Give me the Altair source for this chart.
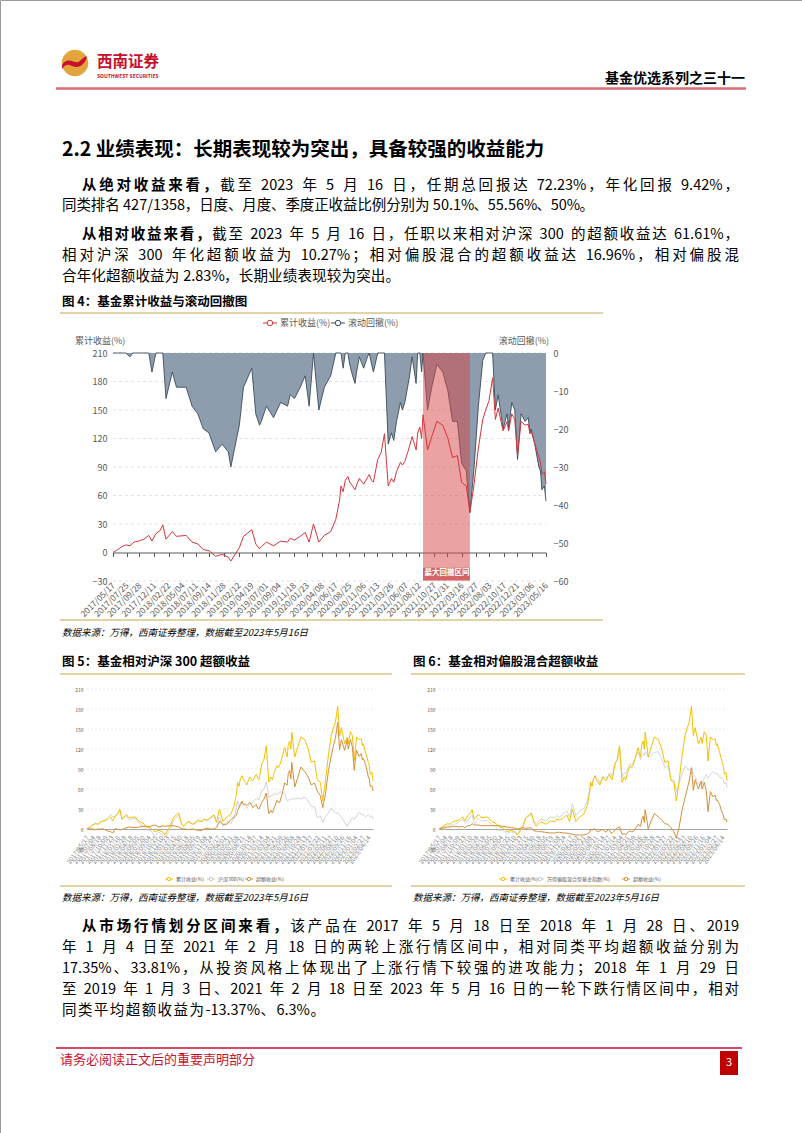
import altair as alt
import pandas as pd

FONT = "Noto Sans CJK SC"
W, H = 802, 1133

# ---------------- data ----------------
DATES = [
    "2017/05/17", "2017/06/09", "2017/06/30", "2017/07/21", "2017/08/11", "2017/08/25", "2017/09/01",
    "2017/09/22", "2017/10/20", "2017/11/14", "2017/11/30", "2017/12/20",
    "2018/01/10", "2018/01/24", "2018/02/09", "2018/03/13", "2018/04/03", "2018/05/22", "2018/06/21",
    "2018/07/20", "2018/08/17", "2018/09/14", "2018/10/18", "2018/11/20", "2018/12/21",
    "2019/01/03", "2019/02/15", "2019/03/08", "2019/04/19", "2019/05/09", "2019/05/28", "2019/06/06",
    "2019/07/02", "2019/08/07", "2019/09/12", "2019/10/17", "2019/10/30", "2019/11/21", "2019/12/20",
    "2020/01/14", "2020/02/03", "2020/02/25", "2020/03/23", "2020/04/20", "2020/05/22", "2020/06/17",
    "2020/07/06", "2020/07/13", "2020/07/24", "2020/08/04", "2020/08/17", "2020/08/26", "2020/09/10",
    "2020/09/22", "2020/09/30", "2020/10/14", "2020/10/28", "2020/11/05", "2020/11/24", "2020/12/03",
    "2020/12/15", "2020/12/24",
    "2021/01/15", "2021/02/01", "2021/02/18", "2021/03/09", "2021/03/25", "2021/04/06", "2021/04/20",
    "2021/05/10", "2021/05/20", "2021/06/01", "2021/06/15", "2021/06/25", "2021/07/08", "2021/07/28",
    "2021/08/05", "2021/08/16", "2021/08/25", "2021/09/01", "2021/09/24", "2021/10/15", "2021/11/10",
    "2021/12/10",
    "2022/01/05", "2022/01/28", "2022/02/22", "2022/03/15", "2022/04/08", "2022/04/26", "2022/05/16",
    "2022/06/08", "2022/06/30", "2022/07/15", "2022/08/01", "2022/08/19", "2022/09/02", "2022/09/16",
    "2022/10/11", "2022/10/31", "2022/11/08", "2022/11/24", "2022/12/09", "2022/12/23",
    "2023/01/10", "2023/01/30", "2023/02/15", "2023/02/24", "2023/03/02", "2023/03/20", "2023/04/10",
    "2023/04/18", "2023/04/25", "2023/05/08", "2023/05/16",
]
FUND = [
    0, 3, 6, 8, 7, 10, 11, 12, 14, 18, 12, 20,
    23, 29, 14, 22, 17, 18, 11, 9, 3, 2, -4, -2, -5,
    -9, 5, 17, 24, 9, 4, 6, 11, 7, 12, 11, 15, 13, 17,
    21, 11, 30, 11, 18, 22, 35, 55, 70, 64, 76, 80, 74, 70, 66, 71, 78, 74, 72, 79, 82, 76, 74,
    98, 105, 125, 70, 78, 74, 85, 95, 92, 96, 105, 112, 122, 108, 126, 132, 120, 145, 108, 122, 138, 134,
    120, 100, 102, 74, 70, 42, 70, 110, 140, 150, 160, 184, 140, 152, 128, 138, 128, 146, 140, 102,
    138, 134, 135, 125, 128, 115, 100, 95, 82, 85, 72.23,
]
DRAWDOWN = [
    0, 0, 0, 0, -1, 0, 0, 0, 0, 0, -5, 0,
    0, 0, -12, -5, -9, -9, -14, -16, -20, -21, -26, -24, -26,
    -30, -19, -9, -4, -16, -19, -18, -14, -17, -13, -14, -11, -12, -9,
    -6, -14, 0, -15, -9, -6, 0, 0, 0, -4, 0, 0, -3, -6, -8, -5, -1, -3, -4, -1, 0, -3, -5,
    0, 0, 0, -24, -21, -23, -18, -13, -15, -13, -9, -6, -1, -8, 0, 0, -5, 0, -15, -9, -3, -5,
    -10, -18, -18, -29, -31, -42, -31, -14, -2, 0, 0, 0, -15, -11, -20, -16, -20, -13, -15, -28,
    -16, -18, -17, -21, -20, -24, -30, -31, -36, -35, -39,
]
HS300 = [
    0, 3, 6, 9, 7, 10, 11, 12, 17, 22, 18, 19,
    24, 30, 15, 20, 14, 16, 8, 5, -1, -2, -10, -5, -10,
    -13, 0, 12, 21, 8, 4, 6, 12, 7, 14, 13, 15, 12, 17,
    21, 9, 18, 4, 11, 8, 17, 34, 42, 32, 40, 38, 37, 33, 31, 34, 38, 38, 40, 44, 45, 45, 44,
    58, 60, 71, 47, 50, 50, 53, 52, 52, 56, 55, 55, 53, 42, 43, 44, 45, 45, 45, 46, 45, 48,
    42, 34, 33, 17, 20, 10, 18, 24, 31, 27, 24, 24, 21, 18, 10, 4, 8, 12, 17, 14,
    20, 25, 22, 21, 22, 18, 22, 20, 18, 20, 15,
]
EXCESS_HS300 = [
    0, 0, 0, -1, 0, 0, 0, 0, -3, -4, -6, 1,
    -1, -1, -1, 2, 3, 2, 3, 4, 4, 4, 6, 3, 5,
    4, 5, 5, 3, 1, 0, 0, -1, 0, -2, -2, 0, 1, 0,
    0, 2, 12, 7, 7, 14, 18, 21, 28, 32, 36, 42, 37, 37, 35, 37, 40, 36, 32, 35, 37, 31, 30,
    40, 45, 54, 23, 28, 24, 32, 43, 40, 40, 50, 57, 69, 66, 83, 88, 75, 100, 63, 76, 93, 86,
    78, 66, 69, 57, 50, 32, 52, 86, 109, 123, 136, 160, 119, 134, 118, 134, 120, 134, 123, 88,
    118, 109, 113, 104, 106, 97, 78, 75, 64, 65, 57,
]
MIX_INDEX = [
    0, 2, 4, 5, 4, 6, 7, 8, 11, 14, 10, 12,
    18, 21, 8, 16, 12, 13, 6, 4, -2, -2, -7, -4, -6,
    -9, 3, 16, 22, 12, 7, 10, 15, 12, 18, 17, 20, 18, 23,
    27, 18, 38, 20, 27, 31, 42, 60, 70, 66, 76, 80, 77, 74, 69, 72, 79, 77, 77, 80, 84, 82, 80,
    100, 103, 122, 78, 85, 83, 90, 98, 96, 100, 105, 110, 115, 104, 112, 113, 110, 116, 108, 110, 115, 116,
    106, 92, 95, 72, 74, 56, 68, 82, 94, 92, 88, 92, 82, 78, 68, 66, 68, 76, 82, 76,
    82, 86, 84, 82, 84, 78, 76, 74, 68, 70, 62,
]
EXCESS_MIX = [
    0, 1, 2, 3, 3, 4, 4, 4, 3, 4, 2, 5,
    5, 8, 6, 6, 5, 5, 5, 5, 5, 4, 3, 2, 1,
    0, 2, 1, 2, -3, -3, -4, -4, -5, -6, -6, -5, -5, -6,
    -6, -7, -8, -9, -9, -9, -7, -5, 0, -2, 0, 0, -3, -4, -3, -1, -1, -3, -5, -1, -2, -6, -6,
    -2, 2, 3, -8, -7, -9, -5, -3, -4, -4, 0, 2, 7, 4, 14, 19, 10, 29, 0, 12, 23, 18,
    14, 8, 7, 2, -4, -14, 2, 28, 46, 58, 72, 92, 58, 74, 60, 72, 60, 70, 58, 26,
    56, 48, 51, 43, 44, 37, 24, 21, 14, 15, 10,
]

C4_XTICKS = [
    "2017/05/17", "2017/07/25", "2017/09/28", "2017/12/11", "2018/02/22", "2018/05/04", "2018/07/11",
    "2018/09/14", "2018/11/28", "2019/02/12", "2019/04/19", "2019/07/01", "2019/09/04", "2019/11/18",
    "2020/01/23", "2020/04/08", "2020/06/17", "2020/08/25", "2020/11/06", "2021/01/13", "2021/03/26",
    "2021/06/07", "2021/08/12", "2021/10/27", "2021/12/31", "2022/03/16", "2022/05/27", "2022/08/03",
    "2022/10/17", "2022/12/21", "2023/03/06", "2023/05/16",
]
C56_XTICKS = [
    "2017/05/17", "2017/07/04", "2017/08/18", "2017/10/09", "2017/11/23", "2018/01/10", "2018/02/28",
    "2018/04/18", "2018/06/05", "2018/07/20", "2018/09/04", "2018/10/25", "2018/12/10", "2019/01/23",
    "2019/03/15", "2019/04/30", "2019/06/18", "2019/08/05", "2019/09/19", "2019/11/08", "2019/12/24",
    "2020/02/17", "2020/04/02", "2020/05/21", "2020/07/08", "2020/08/21", "2020/10/14", "2020/11/27",
    "2021/01/14", "2021/03/04", "2021/04/21", "2021/06/09", "2021/07/26", "2021/09/08", "2021/10/28",
    "2021/12/13", "2022/01/27", "2022/03/22", "2022/05/11", "2022/06/27", "2022/08/10", "2022/09/26",
    "2022/11/16", "2023/01/04", "2023/02/27", "2023/04/14",
]
C4_LEFT_TICKS = [210, 180, 150, 120, 90, 60, 30, 0, -30]
C4_RIGHT_TICKS = [0, -10, -20, -30, -40, -50, -60]
C56_Y_TICKS = [210, 180, 150, 120, 90, 60, 30, 0, -30]
MDD_RANGE = ["2021/09/01", "2022/04/26"]
MDD_LABEL = "最大回撤区间"

C4_SERIES = ["累计收益(%)", "滚动回撤(%)"]
C5_SERIES = ["累计收益(%)", "沪深300(%)", "超额收益(%)"]
C6_SERIES = ["累计收益(%)", "万得偏股混合型基金指数(%)", "超额收益(%)"]

# ---------------- styles ----------------
RED = "#d3353b"
SLATE_FILL = "#8a9aaa"
SLATE_LINE = "#3a4b5a"
GOLD = "#c9a54e"
YELLOW = "#f5c100"
ORANGE = "#d38f3a"
GRAY5 = "#c8c8c8"
GRAY6 = "#c3cedb"
AXT = "#595959"
GRID = "#d9d9d9"
BODY_FS = 14.5

ONE = pd.DataFrame({"k": [0]})


def dt(s):
    y, m, d = (int(v) for v in s.split("/"))
    return alt.DateTime(year=y, month=m, date=d)


def txt(s, x, y, size, color="#000000", weight="normal", style="normal", align="left"):
    return alt.Chart(ONE).mark_text(
        text=s, font=FONT, fontSize=size, color=color, fontWeight=weight,
        fontStyle=style, align=align, baseline="middle"
    ).encode(x=alt.value(x), y=alt.value(y))


def hline(x1, x2, y, color, width=1.0):
    return alt.Chart(ONE).mark_rule(color=color, strokeWidth=width).encode(
        x=alt.value(x1), x2=alt.value(x2), y=alt.value(y))


def legend_item(cx, cy, color, label, fs, half=7, size=30):
    return [
        hline(cx - half, cx + half, cy, color, 1),
        alt.Chart(ONE).mark_point(shape="circle", size=size, filled=True, fill="white",
                                  stroke=color, strokeWidth=1, opacity=1)
        .encode(x=alt.value(cx), y=alt.value(cy)),
        txt(label, cx + half + 3, cy, fs, AXT),
    ]


# ------------- justified body text (CJK justification) -------------
def tok_width(tok, fs):
    if len(tok) == 1 and ord(tok) > 0x2000:
        return fs
    w = 0.0
    for c in tok:
        if c.isdigit():
            w += 0.555
        elif c == ".":
            w += 0.26
        elif c == "%":
            w += 0.88
        elif c == "/":
            w += 0.38
        elif c == "-":
            w += 0.34
        elif c == " ":
            w += 0.25
        else:
            w += 0.55
    return w * fs


def layout_line(segments, x0, x1, y, fs):
    toks = []
    for text, wt in segments:
        i = 0
        while i < len(text):
            c = text[i]
            if ord(c) < 128 and c != " ":
                j = i
                while j < len(text) and ord(text[j]) < 128 and text[j] != " ":
                    j += 1
                toks.append((text[i:j], wt))
                i = j
            else:
                toks.append((c, wt))
                i += 1
    widths = [tok_width(t, fs) for t, _ in toks]
    extra = (x1 - x0 - sum(widths)) / (len(toks) - 1)
    rows, x = [], x0
    for (t, wt), w in zip(toks, widths):
        if t != " ":
            rows.append({"x": x, "y": y, "t": t, "w": wt})
        x += w + extra
    return rows


B, N = "bold", "normal"
LX, IX, RX = 62, 82, 739
rows = []
rows += layout_line([("从绝对收益来看，", B), ("截至 2023 年 5 月 16 日，任期总回报达 72.23%，年化回报 9.42%，", N)], IX, RX, 186, BODY_FS)
rows += layout_line([("同类排名 427/1358，日度、月度、季度正收益比例分别为 50.1%、55.56%、50%。", N)], LX, 594, 206, BODY_FS)
rows += layout_line([("从相对收益来看，", B), ("截至 2023 年 5 月 16 日，任职以来相对沪深 300 的超额收益达 61.61%，", N)], IX, RX, 235, BODY_FS)
rows += layout_line([("相对沪深 300 年化超额收益为 10.27%；相对偏股混合的超额收益达 16.96%，相对偏股混", N)], LX, RX, 256, BODY_FS)
rows += layout_line([("合年化超额收益为 2.83%，长期业绩表现较为突出。", N)], LX, 400, 277, BODY_FS)
rows += layout_line([("从市场行情划分区间来看，", B), ("该产品在 2017 年 5 月 18 日至 2018 年 1 月 28 日、2019", N)], IX, RX, 927, BODY_FS)
rows += layout_line([("年 1 月 4 日至 2021 年 2 月 18 日的两轮上涨行情区间中，相对同类平均超额收益分别为", N)], LX, RX, 948, BODY_FS)
rows += layout_line([("17.35%、33.81%，从投资风格上体现出了上涨行情下较强的进攻能力；2018 年 1 月 29 日", N)], LX, RX, 969, BODY_FS)
rows += layout_line([("至 2019 年 1 月 3 日、2021 年 2 月 18 日至 2023 年 5 月 16 日的一轮下跌行情区间中，相对", N)], LX, RX, 990, BODY_FS)
rows += layout_line([("同类平均超额收益为-13.37%、6.3%。", N)], LX, 325, 1011, BODY_FS)
body = pd.DataFrame(rows)


def body_layer(weight):
    return alt.Chart(body[body["w"] == weight]).mark_text(
        font=FONT, fontSize=BODY_FS, fontWeight=weight, align="left", baseline="middle", color="#000000"
    ).encode(x=alt.X("x:Q", scale=None, axis=None), y=alt.Y("y:Q", scale=None, axis=None), text="t:N")


# ---------------- scales ----------------
XDOM = [dt(DATES[0]), dt(DATES[-1])]
X4 = alt.Scale(domain=XDOM, range=[113, 546], nice=False)
Y4L = alt.Scale(domain=[-30, 210], range=[581, 353], nice=False, zero=False)
Y4R = alt.Scale(domain=[-60, 0], range=[581, 353], nice=False, zero=False)
X5 = alt.Scale(domain=XDOM, range=[87, 373], nice=False)
X6 = alt.Scale(domain=XDOM, range=[439, 727], nice=False)
Y56 = alt.Scale(domain=[-30, 210], range=[849, 689], nice=False, zero=False)

df = pd.DataFrame({
    "date": DATES, "fund": FUND, "dd": DRAWDOWN, "hs": HS300,
    "ex5": EXCESS_HS300, "idx": MIX_INDEX, "ex6": EXCESS_MIX,
})

common_lbl = dict(labelFont=FONT, labelColor=AXT, grid=False, title=None, labelOverlap=False,
                  labelFlush=False, labelBound=False)

x4_axis = alt.Axis(orient="bottom", offset=552.5 - H, values=[dt(s) for s in C4_XTICKS], format="%Y/%m/%d",
                   labelAngle=315, labelAlign="right", labelBaseline="middle", labelFontSize=8.5,
                   tickSize=4, tickColor=AXT, domainColor=AXT, labelPadding=27, **common_lbl)
y4l_axis = alt.Axis(orient="left", offset=-113, values=C4_LEFT_TICKS, labelFontSize=9, domain=False,
                    ticks=False, labelPadding=6, **common_lbl)
y4r_axis = alt.Axis(orient="right", offset=546 - W, values=C4_RIGHT_TICKS, labelFontSize=9, domain=False,
                    ticks=False, labelPadding=7, **common_lbl)


def x56_axis():
    return alt.Axis(orient="bottom", offset=829 - H, values=[dt(s) for s in C56_XTICKS], format="%Y/%m/%d",
                    labelAngle=305, labelAlign="right", labelBaseline="middle", labelFontSize=6.3,
                    labelColor="#7f7f7f", ticks=False, domainColor="#a6a6a6", labelPadding=7,
                    labelFont=FONT, grid=False, title=None, labelOverlap=False, labelFlush=False,
                    labelBound=False)


def y56_axis(off):
    return alt.Axis(orient="left", offset=-off, values=C56_Y_TICKS, labelFontSize=5, domain=False,
                    ticks=False, labelPadding=4, **common_lbl)


L = []

# ---------------- page header ----------------
L.append(alt.Chart(ONE).mark_point(shape="circle", size=700, filled=True, color="#e2a53c", opacity=1)
         .encode(x=alt.value(75), y=alt.value(63)))
L.append(alt.Chart(ONE).mark_point(
    shape="M -0.98 0.15 C -0.55 -0.55 -0.05 0.1 0.3 -0.1 C 0.55 -0.25 0.75 -0.6 0.9 -0.45 "
          "C 0.75 0.05 0.4 0.35 0.05 0.3 C -0.35 0.25 -0.6 -0.15 -0.98 0.45 Z",
    size=700, filled=True, color="#c8102e", opacity=1).encode(x=alt.value(75), y=alt.value(63)))
L.append(txt("西南证券", 97, 62, 15.5, "#c8102e", "bold"))
L.append(txt("SOUTHWEST SECURITIES", 97, 76, 5, "#c8102e", "bold"))
L.append(txt("基金优选系列之三十一", 745, 79, 14, "#000000", "bold", align="right"))
L.append(hline(56, 746, 88.5, "#d96c74", 2.5))

# section heading
L.append(txt("2.2 业绩表现：长期表现较为突出，具备较强的收益能力", 62, 150, 19.5, "#000000", "bold"))
L.append(body_layer("normal"))
L.append(body_layer("bold"))

# ---------------- figure 4 ----------------
L.append(txt("图 4：基金累计收益与滚动回撤图", 62, 302, 12.5, "#000000", "bold"))
L.append(hline(60, 603, 313, GOLD, 1.2))
L += legend_item(270, 323, RED, C4_SERIES[0], 9)
L += legend_item(338, 323, SLATE_LINE, C4_SERIES[1], 9)
L.append(txt("累计收益(%)", 75, 341, 9, AXT))
L.append(txt("滚动回撤(%)", 549, 341, 9, AXT, align="right"))

grid4 = pd.DataFrame({"v": [v for v in C4_LEFT_TICKS if v != 0]})
L.append(alt.Chart(grid4).mark_rule(color=GRID, strokeDash=[3, 3], strokeWidth=0.8).encode(
    y=alt.Y("v:Q", scale=Y4L, axis=None), x=alt.value(113), x2=alt.value(546)))
L.append(alt.Chart(df).mark_area(color=SLATE_FILL, opacity=0.97).encode(
    x=alt.X("date:T", scale=X4, axis=None),
    y=alt.Y("dd:Q", scale=Y4R, axis=y4r_axis, stack=None), y2=alt.datum(0)))
L.append(alt.Chart(df).mark_line(color=SLATE_LINE, strokeWidth=0.9).encode(
    x=alt.X("date:T", scale=X4, axis=None), y=alt.Y("dd:Q", scale=Y4R, axis=None)))
mdd = pd.DataFrame({"s": [MDD_RANGE[0]], "e": [MDD_RANGE[1]], "top": [210], "bot": [-30],
                    "lt": [-16], "lb": [-29]})
L.append(alt.Chart(mdd).mark_rect(color="#d64545", opacity=0.5).encode(
    x=alt.X("s:T", scale=X4, axis=None), x2="e:T",
    y=alt.Y("top:Q", scale=Y4L, axis=None), y2="bot:Q"))
L.append(alt.Chart(df).mark_line(color=RED, strokeWidth=1).encode(
    x=alt.X("date:T", scale=X4, axis=x4_axis), y=alt.Y("fund:Q", scale=Y4L, axis=y4l_axis)))
L.append(alt.Chart(mdd).mark_rect(color="#cf5a5e", opacity=0.85).encode(
    x=alt.X("s:T", scale=X4, axis=None), x2="e:T",
    y=alt.Y("lt:Q", scale=Y4L, axis=None), y2="lb:Q"))
L.append(txt(MDD_LABEL, 447, 573, 7.5, "#ffffff", "bold", align="center"))

L.append(hline(60, 603, 620, GOLD, 1.2))
L.append(txt("数据来源：万得，西南证券整理，数据截至2023年5月16日", 62, 633, 9.5, "#000000", style="italic"))

# ---------------- figure 5 ----------------
L.append(txt("图 5：基金相对沪深 300 超额收益", 62, 662, 12.5, "#000000", "bold"))
L.append(hline(60, 392, 674, GOLD, 1.2))
grid56 = pd.DataFrame({"v": [v for v in C56_Y_TICKS if v > 0]})
L.append(alt.Chart(grid56).mark_rule(color="#e3e3e3", strokeDash=[2, 2], strokeWidth=0.7).encode(
    y=alt.Y("v:Q", scale=Y56, axis=None), x=alt.value(87), x2=alt.value(373)))
L.append(alt.Chart(df).mark_line(color=GRAY5, strokeWidth=0.8).encode(
    x=alt.X("date:T", scale=X5, axis=x56_axis()), y=alt.Y("hs:Q", scale=Y56, axis=y56_axis(87))))
L.append(alt.Chart(df).mark_line(color=YELLOW, strokeWidth=1).encode(
    x=alt.X("date:T", scale=X5, axis=None), y=alt.Y("fund:Q", scale=Y56, axis=None)))
L.append(alt.Chart(df).mark_line(color=ORANGE, strokeWidth=1).encode(
    x=alt.X("date:T", scale=X5, axis=None), y=alt.Y("ex5:Q", scale=Y56, axis=None)))
L += legend_item(169, 879, YELLOW, C5_SERIES[0], 5, half=4, size=12)
L += legend_item(211, 879, GRAY5, C5_SERIES[1], 5, half=4, size=12)
L += legend_item(249, 879, ORANGE, C5_SERIES[2], 5, half=4, size=12)
L.append(hline(60, 392, 886, GOLD, 1.2))
L.append(txt("数据来源：万得，西南证券整理，数据截至2023年5月16日", 62, 898, 9.5, "#000000", style="italic"))

# ---------------- figure 6 ----------------
L.append(txt("图 6：基金相对偏股混合超额收益", 413, 662, 12.5, "#000000", "bold"))
L.append(hline(411, 745, 674, GOLD, 1.2))
L.append(alt.Chart(grid56).mark_rule(color="#e3e3e3", strokeDash=[2, 2], strokeWidth=0.7).encode(
    y=alt.Y("v:Q", scale=Y56, axis=None), x=alt.value(439), x2=alt.value(727)))
L.append(alt.Chart(df).mark_line(color=GRAY6, strokeWidth=0.8).encode(
    x=alt.X("date:T", scale=X6, axis=x56_axis()), y=alt.Y("idx:Q", scale=Y56, axis=y56_axis(439))))
L.append(alt.Chart(df).mark_line(color=YELLOW, strokeWidth=1).encode(
    x=alt.X("date:T", scale=X6, axis=None), y=alt.Y("fund:Q", scale=Y56, axis=None)))
L.append(alt.Chart(df).mark_line(color=ORANGE, strokeWidth=1).encode(
    x=alt.X("date:T", scale=X6, axis=None), y=alt.Y("ex6:Q", scale=Y56, axis=None)))
L += legend_item(503, 879, YELLOW, C6_SERIES[0], 5, half=4, size=12)
L += legend_item(540, 879, GRAY6, C6_SERIES[1], 5, half=4, size=12)
L += legend_item(626, 879, ORANGE, C6_SERIES[2], 5, half=4, size=12)
L.append(hline(411, 745, 886, GOLD, 1.2))
L.append(txt("数据来源：万得，西南证券整理，数据截至2023年5月16日", 413, 898, 9.5, "#000000", style="italic"))

# ---------------- footer ----------------
L.append(hline(56, 742, 1048, "#c8102e", 1.3))
L.append(txt("请务必阅读正文后的重要声明部分", 60, 1060, 13, "#c8102e"))
L.append(alt.Chart(ONE).mark_rect(color="#c00000").encode(
    x=alt.value(720), x2=alt.value(738), y=alt.value(1051), y2=alt.value(1075)))
L.append(txt("3", 729, 1063, 11, "#ffffff", align="center"))

chart = alt.layer(*L).resolve_scale(x="independent", y="independent").properties(
    width=W, height=H, padding=0, autosize=alt.AutoSizeParams(type="none"),
    background="white",
).configure_view(stroke="#9a9a9a", strokeWidth=1)

chart.save("out.html", embed_options={"renderer": "svg", "actions": False})
